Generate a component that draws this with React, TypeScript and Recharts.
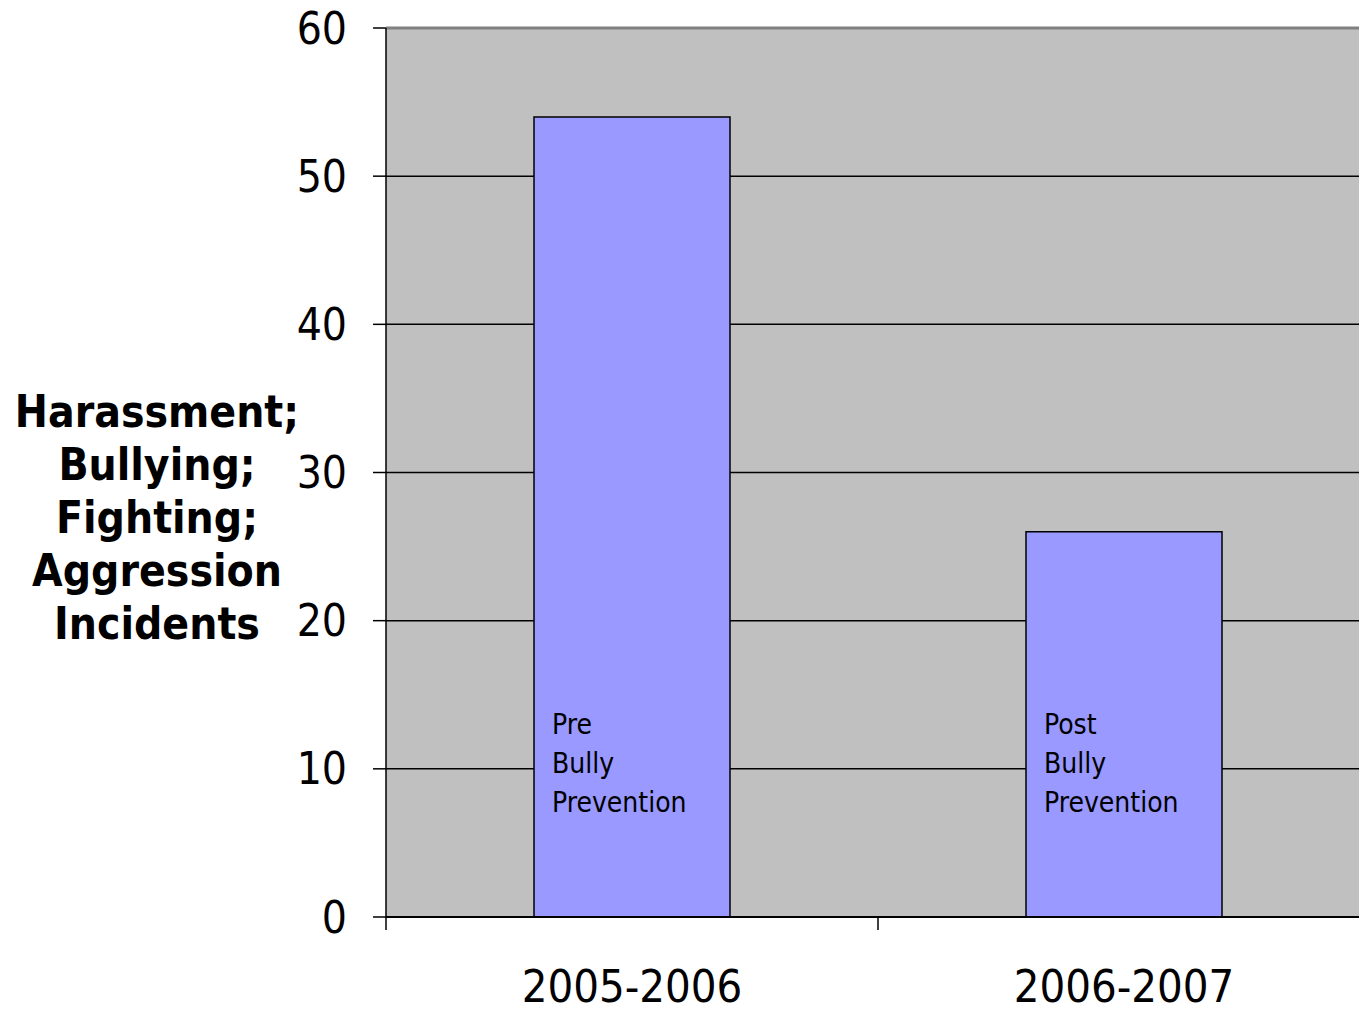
import React from "react";
import { BarChart, Bar, XAxis, YAxis, CartesianGrid, ReferenceLine, LabelList } from "recharts";

// School years and the number of recorded incidents in each
const periods = ["2005-2006", "2006-2007"];
const incidents = [54, 26];
const barNotes = [
  ["Pre", "Bully", "Prevention"],
  ["Post", "Bully", "Prevention"],
];
const yTicks = [0, 10, 20, 30, 40, 50, 60];
const xTicks = [0, 0.5, 1, 1.5, 2];
const titleLines = ["Harassment;", "Bullying;", "Fighting;", "Aggression", "Incidents"];

const FONT = "'DejaVu Sans Condensed', 'DejaVu Sans', sans-serif";

// each period sits in the middle of its unit slot on a 0..2 axis
const data = periods.map((p, i) => ({ pos: i + 0.5, period: p, count: incidents[i] }));

// integer positions get a boundary tick mark, half positions get the period name
const PeriodTick = (props: any) => {
  const { x, y, payload } = props;
  const v = payload.value as number;
  if (Number.isInteger(v)) {
    return <line x1={x} x2={x} y1={y} y2={y + 13} stroke="#000" strokeWidth={1.5} />;
  }
  return (
    <text x={x} y={y + 85} textAnchor="middle" fontSize={45} fontFamily={FONT} fill="#000">
      {periods[Math.floor(v)]}
    </text>
  );
};

const BarNote = (props: any) => {
  const { x, y, height, index } = props;
  const lines = barNotes[index] || [];
  const bottom = Number(y) + Number(height);
  return (
    <text fontSize={28} fontFamily={FONT} fill="#000">
      {lines.map((t: string, i: number) => (
        <tspan key={i} x={Number(x) + 18} y={bottom - 183 + i * 39}>
          {t}
        </tspan>
      ))}
    </text>
  );
};

const YTitle = (props: any) => {
  const vb = props.viewBox || { x: 0, y: 0, width: 0, height: 0 };
  const center = vb.y + vb.height / 2;
  return (
    <text textAnchor="middle" fontSize={44} fontWeight="bold" fontFamily={FONT} fill="#000">
      {titleLines.map((t, i) => (
        <tspan key={i} x={vb.x + 157} y={center - 45.5 + i * 53}>
          {t}
        </tspan>
      ))}
    </text>
  );
};

export default function App() {
  return (
    <div
      style={{
        position: "fixed",
        left: 0,
        top: 0,
        width: 1359,
        height: 1010,
        overflow: "hidden",
        background: "#fff",
      }}
    >
      <BarChart
        width={1410}
        height={1010}
        data={data}
        margin={{ top: 28, right: 40, bottom: 0, left: 0 }}
        style={{ fontFamily: FONT }}
      >
        <CartesianGrid vertical={false} stroke="#000" strokeWidth={1.5} fill="#C0C0C0" fillOpacity={1} />
        <XAxis
          dataKey="pos"
          type="number"
          domain={[0, 2]}
          ticks={xTicks}
          interval={0}
          tickLine={false}
          tickSize={0}
          tickMargin={0}
          height={93}
          axisLine={{ stroke: "#000", strokeWidth: 2 }}
          tick={<PeriodTick />}
          allowDataOverflow
        />
        <YAxis
          type="number"
          domain={[0, 60]}
          ticks={yTicks}
          interval={0}
          width={386}
          tickSize={13}
          tickMargin={26}
          axisLine={{ stroke: "#000", strokeWidth: 1.5 }}
          tickLine={{ stroke: "#000", strokeWidth: 1.5 }}
          tick={{ fontSize: 44, fill: "#000", fontFamily: FONT }}
          label={<YTitle />}
        />
        <ReferenceLine y={60} stroke="#808080" strokeWidth={3} />
        <Bar dataKey="count" barSize={196} fill="#9999FF" stroke="#000" strokeWidth={1.5} isAnimationActive={false}>
          <LabelList dataKey="count" content={<BarNote />} />
        </Bar>
      </BarChart>
    </div>
  );
}
